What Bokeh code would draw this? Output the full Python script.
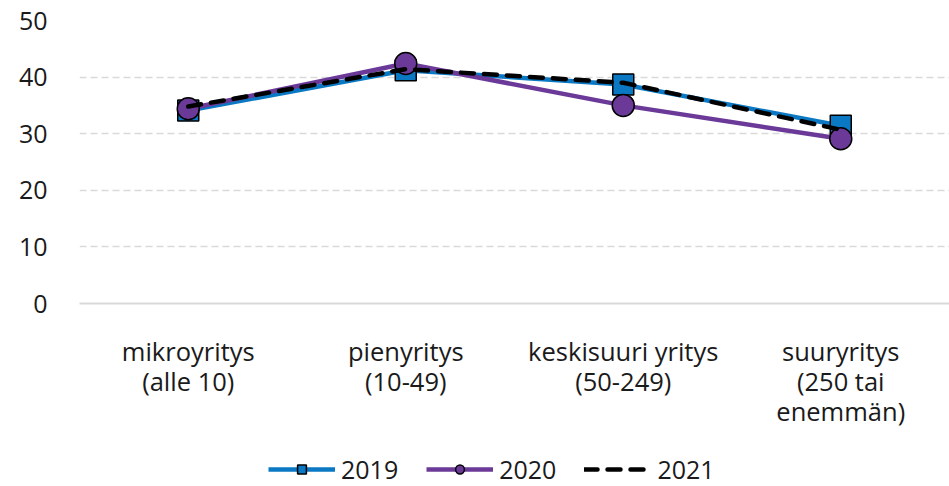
from bokeh.plotting import figure
from bokeh.layouts import column
from bokeh.models import FixedTicker, Range1d, Legend, LegendItem
from bokeh.embed import file_html
from bokeh.resources import INLINE

categories = ["mikroyritys\n(alle 10)", "pienyritys\n(10-49)", "keskisuuri yritys\n(50-249)", "suuryritys\n(250 tai\nenemmän)"]
y2019 = [34.1, 41.2, 38.7, 31.4]
y2020 = [34.4, 42.4, 35.0, 29.1]
y2021 = [34.8, 41.4, 39.0, 30.7]
yticks = [0, 10, 20, 30, 40, 50]
series_names = ["2019", "2020", "2021"]

xs = [i + 0.5 for i in range(len(categories))]
FONT = "Open Sans"
BLUE = "#0A78C2"
PURPLE = "#6B3A99"

p = figure(width=949, height=440, output_backend="svg", toolbar_location=None,
           x_range=Range1d(0, 4), y_range=Range1d(0, 50),
           min_border_top=20, min_border_right=0, min_border_left=79,
           min_border_bottom=137)
p.outline_line_color = None
p.background_fill_color = "white"

line_styles = [
    dict(line_color=BLUE, line_width=4.5),
    dict(line_color=PURPLE, line_width=4.5),
    dict(line_color="black", line_width=4.5, line_dash="13 10", line_cap="round"),
]
marker_styles = [
    dict(marker="square", size=21, fill_color=BLUE, line_color="black", line_width=1.5),
    dict(marker="circle", size=22, fill_color=PURPLE, line_color="black", line_width=1.5),
    None,
]
all_series = [y2019, y2020, y2021]

for ys, ls, ms in zip(all_series, line_styles, marker_styles):
    p.line(xs, ys, **ls)
    if ms:
        p.scatter(xs, ys, **ms)

p.xaxis.ticker = FixedTicker(ticks=xs)
p.xaxis.major_label_overrides = {x: c for x, c in zip(xs, categories)}
p.xaxis.major_label_text_font = FONT
p.xaxis.major_label_text_font_size = "25.5px"
p.xaxis.major_label_text_line_height = 0.89
p.xaxis.major_label_text_color = "#1a1a1a"
p.xaxis.major_label_standoff = 24
p.xaxis.major_tick_line_color = None
p.xaxis.minor_tick_line_color = None
p.xaxis.axis_line_color = "#d9d9d9"
p.xaxis.axis_line_width = 2

p.yaxis.ticker = FixedTicker(ticks=yticks)
p.yaxis.major_label_text_font = FONT
p.yaxis.major_label_text_font_size = "25px"
p.yaxis.major_label_text_color = "#1a1a1a"
p.yaxis.major_label_standoff = 26
p.yaxis.major_tick_line_color = None
p.yaxis.minor_tick_line_color = None
p.yaxis.axis_line_color = None

p.xgrid.grid_line_color = None
p.ygrid.grid_line_color = "#d9d9d9"
p.ygrid.grid_line_width = 1.5
p.ygrid.grid_line_dash = "7 4"

# legend strip (its renderers use the series data, kept outside the visible range)
pl = figure(width=949, height=46, output_backend="svg", toolbar_location=None,
            x_axis_type=None, y_axis_type=None,
            x_range=Range1d(0, 1), y_range=Range1d(0, 1),
            min_border=0)
pl.outline_line_color = None
items = []
for name, ys, ls, ms in zip(series_names, all_series, line_styles, marker_styles):
    rs = [pl.line(xs, ys, **ls)]
    if ms:
        rs.append(pl.scatter(xs, ys, **ms))
    items.append(LegendItem(label=name, renderers=rs))

legend = Legend(items=items, orientation="horizontal", location=(189, 0))
legend.label_text_font = FONT
legend.label_text_font_size = "25px"
legend.label_text_color = "#1a1a1a"
legend.glyph_width = 67
legend.glyph_height = 22
legend.spacing = 28
legend.label_standoff = 6
legend.border_line_color = None
legend.background_fill_alpha = 0
legend.margin = 0
legend.padding = 0
pl.add_layout(legend, "center")

layout = column(p, pl, spacing=0)
open("out.html", "w").write(file_html(layout, INLINE))
